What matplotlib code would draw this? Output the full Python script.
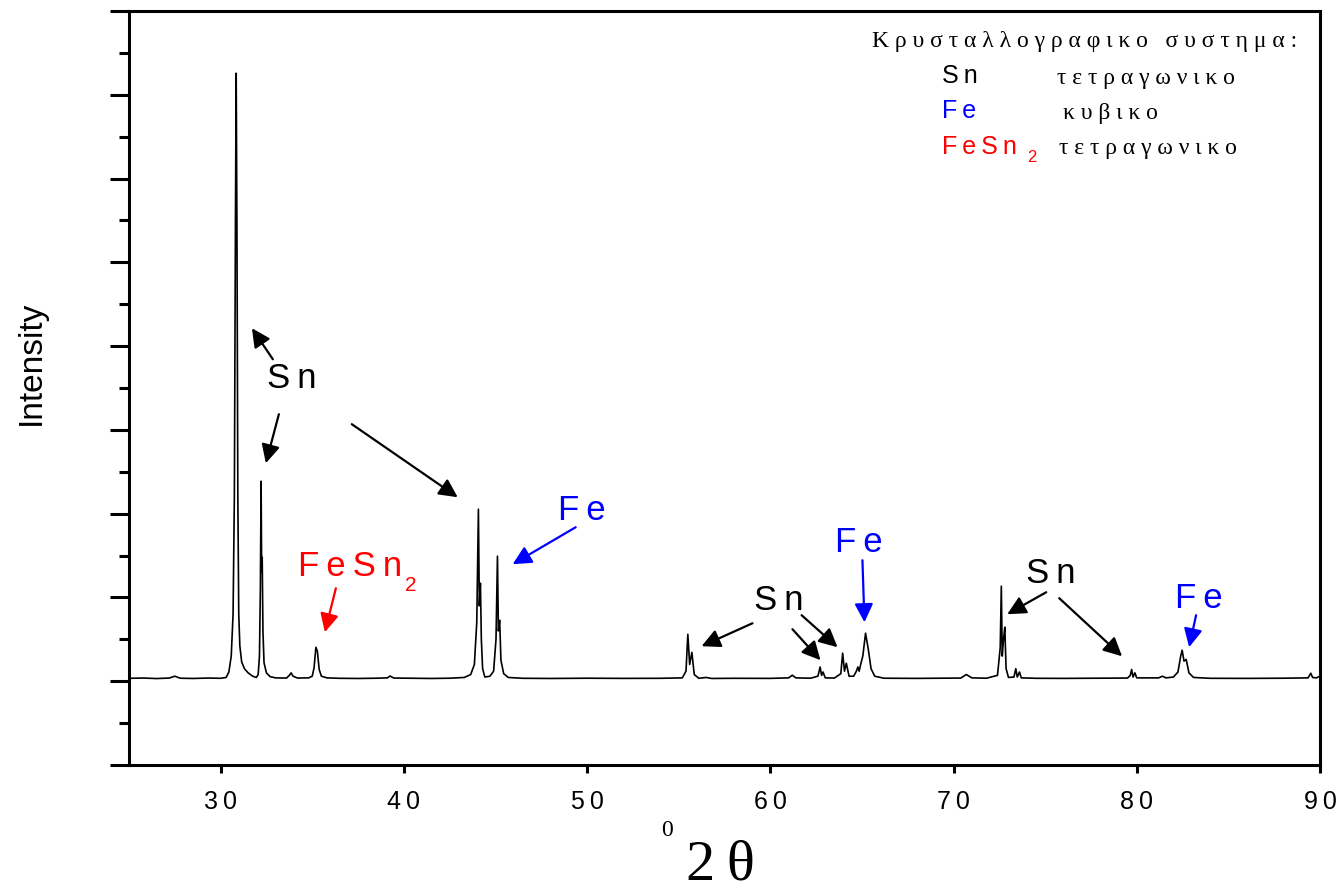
import numpy as np
import matplotlib.pyplot as plt
from matplotlib.ticker import MultipleLocator

plt.rcParams['font.family'] = ['Liberation Sans', 'DejaVu Sans']

# 2theta / intensity vertices
two_theta = [25.0, 25.8, 26.5, 27.2, 27.5, 27.8, 28.5, 29.3, 30.0, 30.3, 30.45, 30.58, 30.68,
             30.75, 30.81, 30.85, 30.89, 30.94, 30.99, 31.05, 31.15, 31.3, 31.5, 31.75, 31.95,
             32.05, 32.12, 32.17, 32.21, 32.24, 32.27, 32.31, 32.37, 32.5, 32.7, 33.0, 33.6,
             33.75, 33.85, 33.95, 34.2, 34.8, 35.0, 35.1, 35.2, 35.28, 35.38, 35.5, 35.8, 36.5,
             37.5, 38.5, 39.1, 39.25, 39.45, 40.5, 41.5, 42.5, 43.3, 43.65, 43.85, 43.98, 44.07,
             44.12, 44.18, 44.23, 44.3, 44.42, 44.7, 44.9, 45.03, 45.11, 45.16, 45.23, 45.3,
             45.45, 45.7, 46.5, 48.0, 50.0, 52.0, 54.0, 55.2, 55.4, 55.5, 55.6, 55.72, 55.85,
             56.1, 56.5, 56.8, 58.0, 60.0, 61.0, 61.2, 61.4, 62.2, 62.6, 62.72, 62.8, 62.88,
             63.0, 63.5, 63.85, 63.95, 64.05, 64.15, 64.3, 64.55, 64.7, 64.78, 64.85, 64.95,
             65.05, 65.2, 65.35, 65.5, 65.7, 66.2, 68.0, 70.4, 70.7, 71.0, 71.8, 72.4, 72.55,
             72.61, 72.66, 72.73, 72.8, 72.87, 73.0, 73.3, 73.4, 73.48, 73.6, 73.7, 74.5, 76.0,
             78.0, 79.5, 79.65, 79.72, 79.8, 79.9, 80.0, 81.2, 81.4, 81.6, 82.0, 82.25, 82.4,
             82.48, 82.58, 82.7, 82.85, 83.1, 84.0, 86.0, 88.0, 89.35, 89.5, 89.6, 89.8, 90.0]
intensity = [35, 38, 32, 38, 60, 36, 33, 38, 35, 45, 110, 300, 800,
             2200, 5500, 7257, 5500, 2200, 800, 420, 230, 150, 100, 60, 45,
             80, 300, 1100, 2387, 1300, 1480, 600, 220, 100, 55, 40, 38,
             70, 100, 60, 38, 40, 60, 160, 405, 360, 140, 60, 40, 35,
             33, 36, 40, 62, 38, 35, 33, 36, 45, 80, 200, 700, 2053,
             900, 1170, 500, 150, 50, 60, 120, 500, 1492, 600, 728, 250,
             90, 45, 35, 33, 36, 34, 35, 40, 120, 560, 200, 345, 80,
             35, 45, 33, 35, 34, 40, 72, 40, 36, 60, 170, 70, 110,
             40, 38, 90, 335, 120, 215, 60, 60, 120, 170, 120, 215,
             300, 573, 380, 150, 60, 36, 34, 38, 80, 40, 36, 70, 400,
             1134, 300, 500, 645, 150, 45, 50, 150, 50, 110, 40, 35, 34,
             36, 38, 70, 140, 50, 100, 40, 40, 60, 40, 50, 110, 300,
             370, 240, 260, 100, 45, 35, 34, 36, 40, 95, 45, 40, 60]

x_ticks = [30, 40, 50, 60, 70, 80, 90]
x_ticklabels = ['3\u20090', '4\u20090', '5\u20090', '6\u20090', '7\u20090', '8\u20090', '9\u20090']

fig = plt.figure(figsize=(13.41, 8.91), dpi=100)
ax = fig.add_axes([0.0962, 0.1414, 0.8881, 0.8463])

ax.plot(two_theta, intensity, color='k', lw=1.2)

ax.set_xlim(25, 90)
ax.set_ylim(-1000, 8000)
ax.set_xticks(x_ticks)
ax.set_xticklabels(x_ticklabels, fontsize=18)
ax.yaxis.set_major_locator(MultipleLocator(1000))
ax.yaxis.set_minor_locator(MultipleLocator(500))
ax.set_yticklabels([])
ax.tick_params(axis='y', which='major', length=14, width=2.2, direction='out')
ax.tick_params(axis='y', which='minor', length=7, width=2.2, direction='out')
ax.tick_params(axis='x', which='major', length=6, width=2.2, direction='out', pad=12)
for s in ax.spines.values():
    s.set_linewidth(2.2)

fig.text(31 / 1341, 1 - 363 / 891, 'Intensity', rotation=90, ha='center', va='center', fontsize=24)
fig.text(720 / 1341, 1 - 866 / 891, '2\u2009\u03b8', ha='center', va='center', fontsize=42,
         family=['Liberation Serif', 'DejaVu Serif'])
fig.text(667 / 1341, 1 - 830 / 891, '0', ha='center', va='center', fontsize=17,
         family=['Liberation Serif', 'DejaVu Serif'])

# peak labels with arrows
arrow_kw = dict(arrowstyle='-|>', mutation_scale=28, lw=1.6, shrinkA=0, shrinkB=0)

def label(txt, pos, color, fs=25):
    ax.text(pos[0], pos[1], txt, color=color, fontsize=fs, ha='center', va='center')

def arrow(tail, head, color):
    ax.annotate('', xy=head, xytext=tail, arrowprops=dict(color=color, **arrow_kw))

sp = '\u2009'
label('S' + sp + 'n', (33.89, 3617), 'k')
arrow((32.85, 3843), (31.71, 4213), 'k')
arrow((33.18, 3187), (32.47, 2602), 'k')
arrow((37.16, 3068), (42.94, 2196), 'k')

ax.text(34.22, 1373, sp.join('FeSn'), color='red', fontsize=25, ha='left', va='center')
ax.text(40.05, 1140, '2', color='red', fontsize=15, ha='left', va='center')
arrow((36.29, 1110), (35.69, 585), 'red')

label(sp.join('Fe'), (49.70, 2041), 'blue')
arrow((49.38, 1838), (45.94, 1397), 'blue')

label(sp.join('Fe'), (64.81, 1659), 'blue')
arrow((65.03, 1444), (65.14, 704), 'blue')

label(sp.join('Sn'), (60.44, 967), 'k')
arrow((59.03, 692), (56.25, 418), 'k')
arrow((61.21, 621), (62.74, 251), 'k')
arrow((61.71, 788), (63.67, 406), 'k')

label(sp.join('Sn'), (75.33, 1289), 'k')
arrow((75.06, 1062), (72.93, 800), 'k')
arrow((75.77, 991), (79.20, 298), 'k')

label(sp.join('Fe'), (83.40, 991), 'blue')
arrow((83.24, 788), (82.86, 406), 'blue')

# crystal system note, upper right
serif = ['Liberation Serif', 'DejaVu Serif']
def spaced(word):
    return ' '.join(word)

ax.text(0.624, 0.959, spaced('Κρυσταλλογραφικο') + '   ' + spaced('συστημα:'),
        transform=ax.transAxes, fontsize=17, family=serif, ha='left', va='center')
rows = [('Sn', 'k', 'τετραγωνικο', 0.779, 0.914),
        ('Fe', 'blue', 'κυβικο', 0.784, 0.867),
        ('FeSn', 'red', 'τετραγωνικο', 0.781, 0.820)]
for name, col, system, sx, y in rows:
    ax.text(0.683, y, sp.join(name), transform=ax.transAxes, fontsize=18, color=col,
            ha='left', va='center')
    ax.text(sx, y - 0.003, spaced(system), transform=ax.transAxes, fontsize=17, family=serif,
            ha='left', va='center')
ax.text(0.754, 0.806, '2', transform=ax.transAxes, fontsize=12, color='red', ha='left', va='center')

fig.savefig('out.png', dpi=100)
